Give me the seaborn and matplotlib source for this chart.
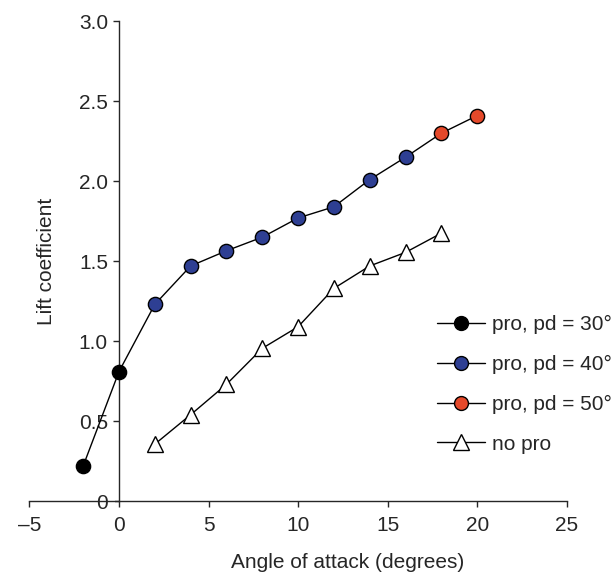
import matplotlib
matplotlib.use("Agg")
import matplotlib.pyplot as plt
import seaborn as sns
from matplotlib.lines import Line2D

sns.set_style("ticks")
plt.rcParams['font.family'] = ['Liberation Sans', 'DejaVu Sans']

# data
aoa_pd30 = [-2, 0]
cl_pd30 = [0.22, 0.81]
aoa_pd40 = [2, 4, 6, 8, 10, 12, 14, 16]
cl_pd40 = [1.23, 1.47, 1.565, 1.65, 1.77, 1.84, 2.01, 2.15]
aoa_pd50 = [18, 20]
cl_pd50 = [2.30, 2.41]
aoa_nopro = [2, 4, 6, 8, 10, 12, 14, 16, 18]
cl_nopro = [0.356, 0.54, 0.73, 0.955, 1.09, 1.33, 1.47, 1.555, 1.675]

labels = ["pro, pd = 30°", "pro, pd = 40°", "pro, pd = 50°", "no pro"]
colors = ["#000000", "#2e3f93", "#e5492a"]

FS = 15

fig = plt.figure(figsize=(6.14, 5.74), dpi=100)
ax = fig.add_axes([0.048, 0.127, 0.875, 0.836])

# connecting line for the "pro" series (runs through all three groups)
aoa_pro = aoa_pd30 + aoa_pd40 + aoa_pd50
cl_pro = cl_pd30 + cl_pd40 + cl_pd50
sns.lineplot(x=aoa_pro, y=cl_pro, ax=ax, color="black", lw=1.0, sort=False, zorder=2)
for xs, ys, c in zip([aoa_pd30, aoa_pd40, aoa_pd50], [cl_pd30, cl_pd40, cl_pd50], colors):
    sns.scatterplot(x=xs, y=ys, ax=ax, color=c, s=105, edgecolor="black",
                    linewidth=1.0, zorder=3, clip_on=False)

sns.lineplot(x=aoa_nopro, y=cl_nopro, ax=ax, color="black", lw=1.0, marker="^",
             markersize=11, markerfacecolor="white", markeredgecolor="black",
             markeredgewidth=1.0, zorder=3)

ax.set_xlim(-5, 25)
ax.set_ylim(0, 3.0)
ax.spines['left'].set_position(('data', 0))
ax.spines['right'].set_visible(False)
ax.spines['top'].set_visible(False)
for s in ['left', 'bottom']:
    ax.spines[s].set_linewidth(1.0)

ax.set_xticks([-5, 0, 5, 10, 15, 20, 25])
ax.set_xticklabels(["–5", "0", "5", "10", "15", "20", "25"])
ax.set_yticks([0, 0.5, 1.0, 1.5, 2.0, 2.5, 3.0])
ax.set_yticklabels(["0", "0.5", "1.0", "1.5", "2.0", "2.5", "3.0"])
ax.tick_params(axis='both', labelsize=FS, length=4, width=1.0, direction='out')
ax.tick_params(axis='x', pad=7)
ax.tick_params(axis='y', pad=4)
ylab0 = ax.get_yticklabels()[0]
ylab0.set_bbox(dict(facecolor='white', edgecolor='none', pad=5))

ax.set_xlabel("Angle of attack (degrees)", fontsize=FS)
ax.xaxis.set_label_coords(0.593, -0.108)
ax.set_ylabel("Lift coefficient", fontsize=FS)
ax.yaxis.set_label_coords(0.049, 0.5)

handles = [Line2D([], [], color="black", lw=1.0, marker="o", markersize=10,
                  markerfacecolor=c, markeredgecolor="black") for c in colors]
handles.append(Line2D([], [], color="black", lw=1.0, marker="^", markersize=11,
                      markerfacecolor="white", markeredgecolor="black"))
fig.legend(handles, labels, loc="upper left", bbox_to_anchor=(437 / 614, 1 - 315 / 574),
           bbox_transform=fig.transFigure, frameon=False, fontsize=FS,
           handlelength=2.3, handletextpad=0.33, labelspacing=1.0,
           borderpad=0, borderaxespad=0)

fig.savefig("out.png", dpi=100)
